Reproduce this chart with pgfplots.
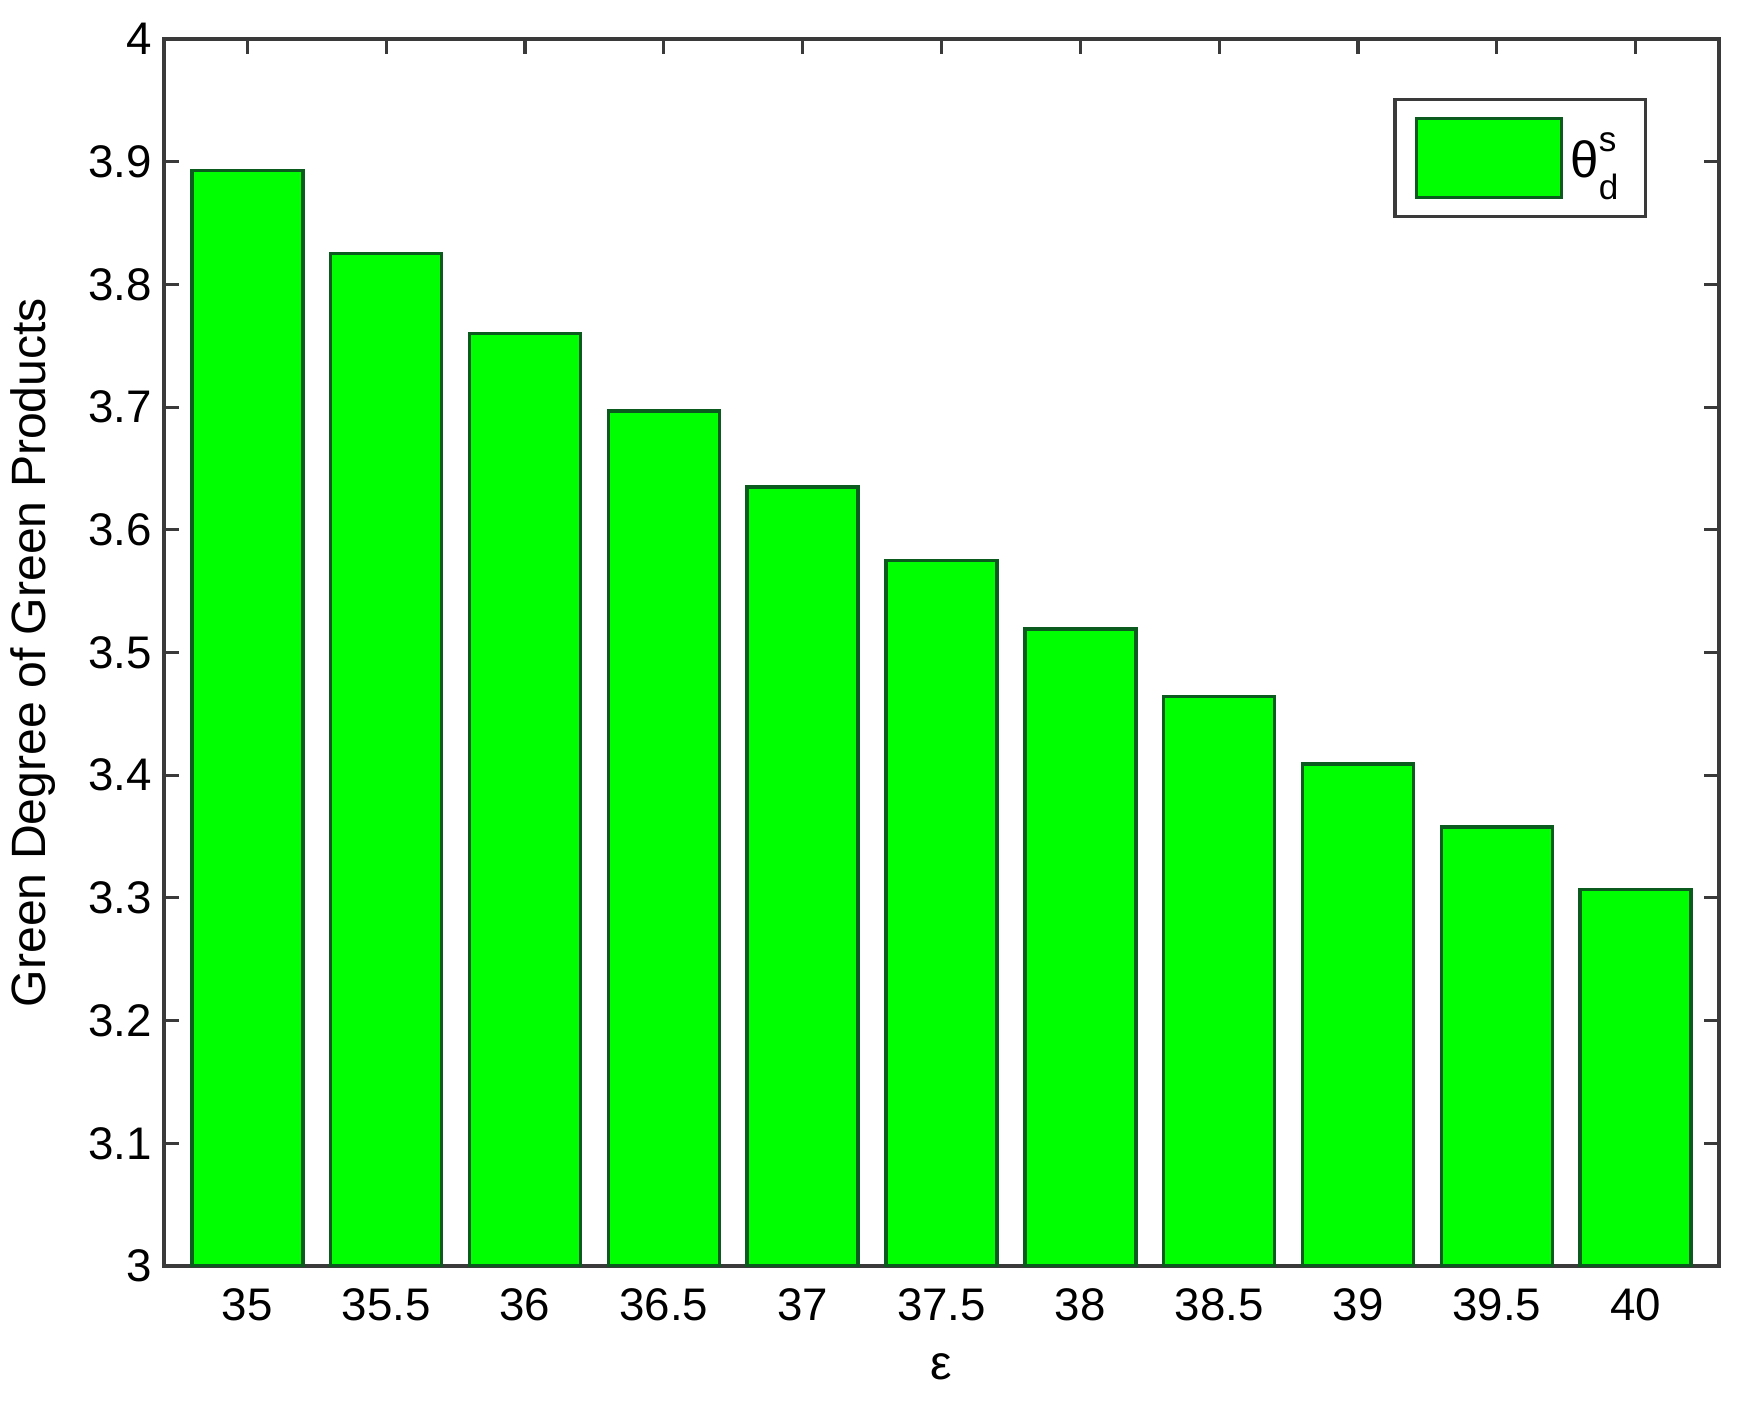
\documentclass[border=0pt]{standalone}
\usepackage{fontspec}
\setmainfont{Liberation Sans}
\usepackage{pgfplots}
\pgfplotsset{compat=1.18}
\definecolor{barGreen}{HTML}{00FF00}
\definecolor{barEdge}{HTML}{0B5A1E}
\definecolor{axGray}{HTML}{3A3A3A}

\begin{document}
\begin{tikzpicture}
  \path[use as bounding box] (-1.64,-1.56) rectangle (15.82,12.66);
  \begin{axis}[
    at={(0,0)}, anchor=south west,
    scale only axis,
    width=15.55cm, height=12.27cm,
    xmin=34.7, xmax=40.3,
    ymin=3, ymax=4,
    xtick={35,35.5,...,40},
    xticklabels={35,35.5,36,36.5,37,37.5,38,38.5,39,39.5,40},
    ytick={3,3.1,...,4.01},
    yticklabels={3,3.1,3.2,3.3,3.4,3.5,3.6,3.7,3.8,3.9,4},
    tick align=inside,
    xtick pos=both, ytick pos=both,
    major tick length=0.15cm,
    axis line style={axGray, line width=0.9pt},
    tick style={axGray, line width=0.9pt},
    tick label style={font=\fontsize{13}{15}\selectfont, black},
    xticklabel style={yshift=-0.1cm},
    xlabel={ε},
    ylabel={Green Degree of Green Products},
    label style={font=\fontsize{13.7}{16}\selectfont},
    xlabel style={at={(0.5,0)}, anchor=center, yshift=-1.01cm},
    ylabel style={at={(0,0.5)}, anchor=center, yshift=1.31cm},
    legend style={at={(0.9537,0.9519)}, anchor=north east,
      draw=axGray, line width=0.9pt, fill=white,
      font=\fontsize{14.5}{16}\selectfont,
      inner xsep=0.2cm, inner ysep=0.17cm},
    legend image code/.code={%
      \draw[#1, line width=1pt] (0cm,-0.395cm) rectangle (1.45cm,0.395cm);},
  ]
    \addplot[ybar, bar width=0.4, bar shift=0pt, fill=barGreen, draw=barEdge, line width=1pt]
      coordinates {
        (35.0, 3.893)
        (35.5, 3.825)
        (36.0, 3.760)
        (36.5, 3.697)
        (37.0, 3.635)
        (37.5, 3.575)
        (38.0, 3.519)
        (38.5, 3.464)
        (39.0, 3.409)
        (39.5, 3.358)
        (40.0, 3.307)
      };
    \addlegendentry{θ\makebox[0pt][l]{\raisebox{0.26cm}{\fontsize{10}{11}\selectfont s}}\raisebox{-0.22cm}{\fontsize{10}{11}\selectfont d}}
  \end{axis}
\end{tikzpicture}
\end{document}
